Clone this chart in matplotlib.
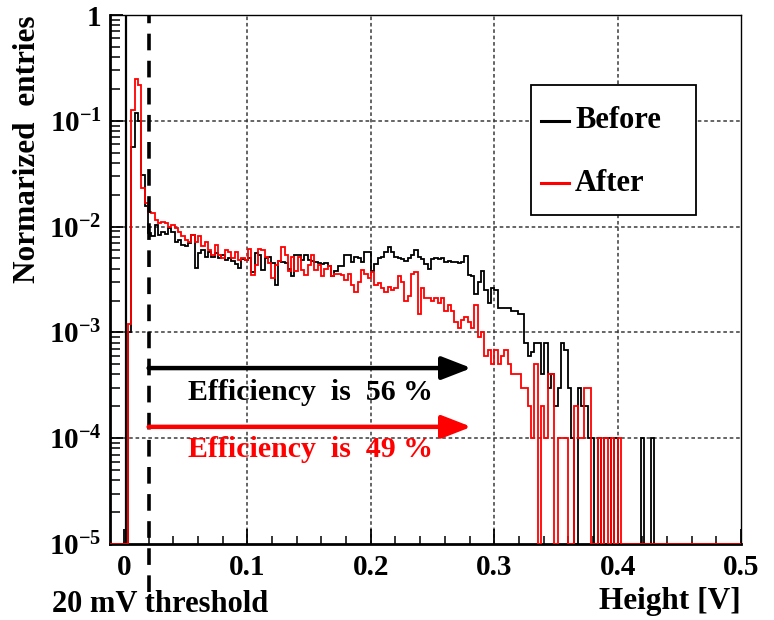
import numpy as np
import matplotlib
matplotlib.use("Agg")
import matplotlib.pyplot as plt
from matplotlib.lines import Line2D
from matplotlib.patches import Rectangle

# ---------------- data ----------------
bin_width = 0.0027
first_edge = 0.0005          # left edge of the first listed bin
x_min, x_max = -0.0113, 0.5
y_min, y_max = 1e-5, 1.0

before = [
    0, 0.001, 0.057, 0.118, 0.1, 0.031, 0.0155, 0.0087, 0.0081, 0.0103,
    0.0083, 0.0088, 0.0085, 0.0096, 0.0088, 0.0072, 0.0075, 0.0067, 0.0065, 0.007,
    0.0083, 0.0041, 0.0056, 0.006, 0.0052, 0.0058, 0.0052, 0.0056, 0.0051, 0.0054,
    0.0048, 0.005, 0.0047, 0.0044, 0.0041, 0.0049, 0.0048, 0.005, 0.0037, 0.0056,
    0.0054, 0.0039, 0.005, 0.0052, 0.0045, 0.0028, 0.0047, 0.0046, 0.0045, 0.004,
    0.0034, 0.0054, 0.0054, 0.0048, 0.0054, 0.0048, 0.0047, 0.0046, 0.0045, 0.0044,
    0.0045, 0.0042, 0.0034, 0.0038, 0.0042, 0.0042, 0.0054, 0.0054, 0.0046, 0.0052,
    0.005, 0.0046, 0.0058, 0.0058, 0.0038, 0.0044, 0.005, 0.0052, 0.0058, 0.0064,
    0.0058, 0.0052, 0.005, 0.0049, 0.0047, 0.005, 0.0054, 0.006, 0.0052, 0.0049,
    0.0044, 0.004, 0.0049, 0.005, 0.0049, 0.005, 0.0046, 0.0047, 0.0046, 0.0046,
    0.0045, 0.0046, 0.0053, 0.0035, 0.0034, 0.0023, 0.003, 0.0038, 0.0025, 0.0019,
    0.0026, 0.0025, 0.0017, 0.0017, 0.0017, 0.0017, 0.0016, 0.0016, 0.0015, 0.0015,
    0.0008, 0.0006, 0.00065, 0.0008, 0.0008, 0.0004, 0.0008, 0.0003, 0.0004, 0.0002,
    0.0003, 0.0008, 0.00068, 0.0003, 0.0001, 0, 0.0003, 0.0002, 0.0002, 0.0001,
    0.0001, 0, 0.0001, 0, 0.0001, 0.0001, 0, 0.0001, 0, 0,
    0, 0, 0, 0, 0, 0.0001, 0, 0, 0.0001,
]

after = [
    0, 0.0012, 0.126, 0.25, 0.22, 0.023, 0.0167, 0.0138, 0.0134, 0.0115,
    0.0107, 0.011, 0.0107, 0.01, 0.0103, 0.0096, 0.0089, 0.0081, 0.0075, 0.0072,
    0.0084, 0.0072, 0.0081, 0.0065, 0.0072, 0.006, 0.0054, 0.0067, 0.0054, 0.005,
    0.006, 0.0057, 0.005, 0.0058, 0.0048, 0.005, 0.0048, 0.0062, 0.0035, 0.0043,
    0.0062, 0.006, 0.0052, 0.0045, 0.0033, 0.0043, 0.0047, 0.0064, 0.0054, 0.0038,
    0.0052, 0.0038, 0.0052, 0.0039, 0.0035, 0.0043, 0.0054, 0.0039, 0.0043, 0.0034,
    0.004, 0.0042, 0.0034, 0.0036, 0.0036, 0.0035, 0.0031, 0.0036, 0.0028, 0.0024,
    0.003, 0.0039, 0.0036, 0.0033, 0.0037, 0.0028, 0.0029, 0.0026, 0.0024, 0.0027,
    0.0025, 0.0026, 0.0034, 0.003, 0.002, 0.0022, 0.0036, 0.0037, 0.0015, 0.0026,
    0.0021, 0.0021, 0.002, 0.0021, 0.0019, 0.0021, 0.0016, 0.0018, 0.0016, 0.00125,
    0.0011, 0.0013, 0.0014, 0.00125, 0.0011, 0.0018, 0.0009, 0.001, 0.0006, 0.00068,
    0.0005, 0.00068, 0.0005, 0.0006, 0.00068, 0.0005, 0.0004, 0.0004, 0.0004, 0.0003,
    0.0003, 0.0002, 0.0001, 0.0005, 0, 0.0002, 0.0001, 0.0004, 0.0004, 0,
    0.0001, 0.0001, 0.0001, 0, 0, 0.0002, 0.0001, 0.0001, 0.0003, 0.0003,
    0, 0, 0.0001, 0, 0.0001, 0, 0.0001, 0, 0.0001, 0,
    0, 0, 0, 0, 0, 0, 0, 0, 0,
]

x_ticks = [0, 0.1, 0.2, 0.3, 0.4, 0.5]
x_tick_labels = ["0", "0.1", "0.2", "0.3", "0.4", "0.5"]
y_ticks = [1e-5, 1e-4, 1e-3, 1e-2, 1e-1, 1]
y_tick_labels = [r"$10^{-5}$", r"$10^{-4}$", r"$10^{-3}$", r"$10^{-2}$", r"$10^{-1}$", "1"]
threshold = 0.02
eff_before = 56
eff_after = 49

# ---------------- style ----------------
plt.rcParams["font.family"] = ["Liberation Serif", "DejaVu Serif"]
plt.rcParams["font.weight"] = "bold"
plt.rcParams["mathtext.fontset"] = "custom"
plt.rcParams["mathtext.rm"] = "Liberation Serif:bold"
plt.rcParams["mathtext.it"] = "Liberation Serif:italic:bold"
plt.rcParams["mathtext.bf"] = "Liberation Serif:bold"
plt.rcParams["lines.scale_dashes"] = False

fig = plt.figure(figsize=(7.74, 6.2), dpi=100)
ax = fig.add_axes([0.1421, 0.1226, 0.8153, 0.8532])
ax.set_yscale("log")
ax.set_xlim(x_min, x_max)
ax.set_ylim(y_min, y_max)

# histogram edges: listed bins, padded with empty bins out to the axis range
n = len(before)
n_left = int(np.ceil((first_edge - x_min) / bin_width))
n_right = int(np.ceil((x_max - (first_edge + bin_width * n)) / bin_width))
full_edges = first_edge + bin_width * np.arange(-n_left, n + n_right + 1)
b_full = np.concatenate([np.zeros(n_left), np.array(before, float), np.zeros(n_right)])
a_full = np.concatenate([np.zeros(n_left), np.array(after, float), np.zeros(n_right)])
# empty bins are drawn on the bottom of the frame (ROOT style)
b_draw = np.where(b_full > 0, b_full, y_min)
a_draw = np.where(a_full > 0, a_full, y_min)

# grid
grid_style = dict(color="#3a3a3a", lw=1.1, linestyle=(0, (2.6, 2.0)))
for xv in x_ticks[1:-1]:
    ax.axvline(xv, zorder=0.5, **grid_style)
for yv in y_ticks[1:-1]:
    ax.axhline(yv, zorder=0.5, **grid_style)

ax.axvline(0.0016, color="black", lw=1.6, zorder=1)

ax.stairs(b_draw, full_edges, baseline=None, color="black", lw=1.3, zorder=2)
ax.stairs(a_draw, full_edges, baseline=None, color="red", lw=1.3, zorder=3)

# threshold line (extends below the frame)
ax.plot([threshold, threshold], [-0.09, 1.0], transform=ax.get_xaxis_transform(),
        color="black", lw=2.6, linestyle=(0, (12.0, 7.5)), clip_on=False, zorder=4)
ax.text(0.079, -0.114, "20 mV threshold", transform=ax.transAxes, ha="center",
        va="center", fontsize=22, fontweight="bold")

# efficiency arrows
for yv, col in [(4.6e-4, "black"), (1.28e-4, "red")]:
    ax.annotate("", xy=(0.2815, yv), xytext=(threshold, yv),
                arrowprops=dict(arrowstyle="-|>,head_length=0.9,head_width=0.35",
                                color=col, lw=3.2, mutation_scale=20,
                                shrinkA=0, shrinkB=0), zorder=5)
ax.text(0.151, 2.73e-4, f"Efficiency  is  {eff_before} %", color="black",
        ha="center", va="center", fontsize=21.5, fontweight="bold")
ax.text(0.151, 7.9e-5, f"Efficiency  is  {eff_after} %", color="red",
        ha="center", va="center", fontsize=21.5, fontweight="bold")

# legend (ROOT-like box)
ax.add_patch(Rectangle((0.667, 0.622), 0.262, 0.246, transform=ax.transAxes,
                       facecolor="white", edgecolor="black", lw=1.3, zorder=6))
for yy, col, lab in [(0.80, "black", "Before"), (0.682, "red", "After")]:
    ax.add_line(Line2D([0.683, 0.727], [yy, yy], transform=ax.transAxes,
                       color=col, lw=2.2, zorder=7))
    ax.text(0.737, yy, lab, transform=ax.transAxes, ha="left", va="center",
            fontsize=22, fontweight="bold", zorder=7)

# axes decoration
ax.set_xticks(x_ticks)
ax.set_xticklabels(x_tick_labels)
ax.set_xticks(np.arange(0, 0.5001, 0.02), minor=True)
ax.set_yticks(y_ticks)
ax.set_yticklabels(y_tick_labels)
ax.tick_params(axis="both", which="both", direction="in", top=False, right=False,
               labelsize=21, color="black")
ax.tick_params(axis="x", which="major", length=11, width=1.3, pad=7)
ax.tick_params(axis="x", which="minor", length=6, width=1.1)
ax.tick_params(axis="y", which="major", length=9, width=1.3, pad=6)
ax.tick_params(axis="y", which="minor", length=7, width=1.1)
for lab in ax.get_xticklabels() + ax.get_yticklabels():
    lab.set_fontweight("bold")

for side in ["left", "bottom"]:
    ax.spines[side].set_linewidth(2.0)
for side in ["top", "right"]:
    ax.spines[side].set_linewidth(1.0)

ax.text(-0.13, 1.0, "Normarized  entries", transform=ax.transAxes, rotation=90,
        ha="center", va="top", fontsize=22.5, fontweight="bold")
ax.text(1.0, -0.108, "Height [V]", transform=ax.transAxes, ha="right", va="center",
        fontsize=22.5, fontweight="bold")

fig.savefig("out.png", dpi=100)
